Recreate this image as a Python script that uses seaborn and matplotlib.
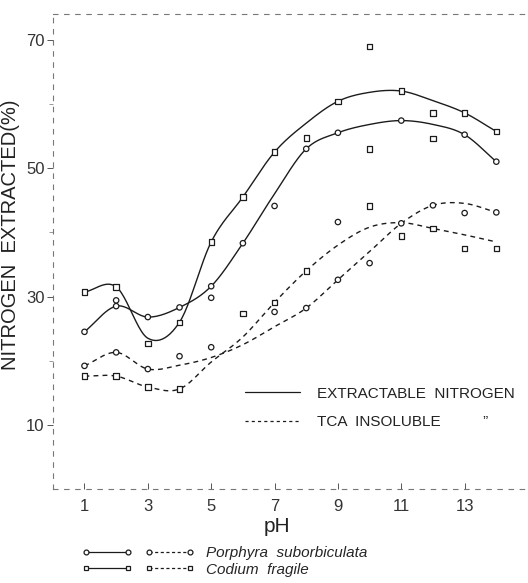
import matplotlib
matplotlib.use("Agg")
import matplotlib.pyplot as plt
from matplotlib.lines import Line2D
from matplotlib.legend_handler import HandlerTuple
import numpy as np
import pandas as pd
import seaborn as sns

# pH values for the smooth curves
ph = list(range(1, 15))

# curve values at each pH
porphyra_ext = [24.5, 28.5, 26.8, 28.3, 31.6, 38.3, 46.0, 53.0, 55.5, 56.8, 57.4, 56.8, 55.2, 51.0]
codium_ext = [30.7, 31.5, 23.5, 26.0, 38.5, 45.5, 52.5, 57.0, 60.4, 61.8, 62.0, 60.5, 58.6, 55.7]
porphyra_tca = [19.2, 21.3, 18.7, 19.3, 20.5, 22.5, 25.3, 28.2, 32.6, 37.0, 41.4, 44.2, 44.5, 43.1]
codium_tca = [17.6, 17.6, 15.9, 15.6, 19.8, 23.7, 29.1, 34.0, 38.0, 40.8, 41.5, 40.6, 39.6, 38.5]

# pH where a marker sits on each curve
porphyra_ext_marked = [1, 2, 3, 4, 5, 6, 8, 9, 11, 13, 14]
codium_ext_marked = [1, 2, 4, 5, 6, 7, 9, 11, 13, 14]
porphyra_tca_marked = [1, 2, 3, 8, 9, 11, 12, 14]
codium_tca_marked = [1, 2, 3, 4, 7, 8, 12]

# loose points off the curves
codium_extra_ph = [3, 6, 8, 10, 10, 10, 11, 12, 12, 13, 14]
codium_extra_val = [22.7, 27.4, 54.7, 68.9, 53.0, 44.1, 39.4, 58.6, 54.6, 37.5, 37.5]
porphyra_extra_ph = [2, 4, 5, 5, 7, 7, 9, 10, 13]
porphyra_extra_val = [29.4, 20.7, 22.1, 29.8, 44.1, 27.6, 41.6, 35.2, 43.0]

y_ticks = [10, 30, 50, 70]
x_ticks = [1, 3, 5, 7, 9, 11, 13]

INK = "#1c1c1c"
FONT = ["Liberation Sans", "DejaVu Sans"]


def smooth(xs, ys, n=24):
    # cardinal (Catmull-Rom) spline through the read values, for drawing only
    x = np.asarray(xs, float)
    y = np.asarray(ys, float)
    m = np.gradient(y, x)
    out_x, out_y = [], []
    t = np.linspace(0, 1, n, endpoint=False)
    for i in range(len(x) - 1):
        h = x[i + 1] - x[i]
        h00 = 2 * t**3 - 3 * t**2 + 1
        h10 = t**3 - 2 * t**2 + t
        h01 = -2 * t**3 + 3 * t**2
        h11 = t**3 - t**2
        out_x.append(x[i] + t * h)
        out_y.append(h00 * y[i] + h10 * h * m[i] + h01 * y[i + 1] + h11 * h * m[i + 1])
    out_x.append([x[-1]])
    out_y.append([y[-1]])
    return np.concatenate(out_x), np.concatenate(out_y)


series = {
    ("Porphyra", "ext"): (porphyra_ext, porphyra_ext_marked),
    ("Codium", "ext"): (codium_ext, codium_ext_marked),
    ("Porphyra", "tca"): (porphyra_tca, porphyra_tca_marked),
    ("Codium", "tca"): (codium_tca, codium_tca_marked),
}

curve_rows, point_rows = [], []
for (sp, frac), (vals, marked) in series.items():
    sx, sy = smooth(ph, vals)
    curve_rows.append(pd.DataFrame({"pH": sx, "N": sy, "species": sp, "fraction": frac,
                                    "unit": f"{sp}-{frac}"}))
    lookup = dict(zip(ph, vals))
    for p in marked:
        point_rows.append({"pH": p, "N": lookup[p], "species": sp})
for p, v in zip(codium_extra_ph, codium_extra_val):
    point_rows.append({"pH": p, "N": v, "species": "Codium"})
for p, v in zip(porphyra_extra_ph, porphyra_extra_val):
    point_rows.append({"pH": p, "N": v, "species": "Porphyra"})

curves = pd.concat(curve_rows, ignore_index=True)
points = pd.DataFrame(point_rows)

sns.set_theme(style="white")
plt.rcParams["font.family"] = FONT

fig = plt.figure(figsize=(5.28, 5.83), dpi=100)
ax = fig.add_axes([0.100, 0.161, 0.900, 0.815])

sns.lineplot(data=curves, x="pH", y="N", units="unit", estimator=None, sort=False,
             style="fraction", dashes={"ext": "", "tca": (3.5, 3)}, color=INK,
             lw=1.0, legend=False, ax=ax)
sns.scatterplot(data=points, x="pH", y="N", style="species",
                markers={"Porphyra": "o", "Codium": "s"}, s=15,
                facecolor="white", edgecolor=INK, linewidth=0.9, zorder=3,
                legend=False, ax=ax)

ax.set_xlim(0, 15)
ax.set_ylim(0, 74)
ax.set_xticks(x_ticks)
ax.set_yticks(y_ticks)
ax.set_yticks([20, 40, 60], minor=True)
ax.tick_params(axis="y", which="major", direction="out", length=4, width=0.7,
               color="#555", labelsize=12, labelcolor="#333", pad=2, left=True)
ax.tick_params(axis="y", which="minor", direction="out", length=3, width=0.6,
               color="#888", left=True)
ax.tick_params(axis="x", direction="in", length=4, width=0.7, color="#555",
               labelsize=12, labelcolor="#333", pad=7, bottom=True)

for side in ["left", "bottom", "top"]:
    ax.spines[side].set_color("#777")
    ax.spines[side].set_linewidth(0.8)
    ax.spines[side].set_linestyle((0, (4, 6)))
ax.spines["right"].set_visible(False)

ax.set_xlabel("pH", fontsize=15, color="#222")
ax.xaxis.set_label_coords(0.472, -0.058)
ax.set_ylabel("NITROGEN  EXTRACTED(%)", fontsize=14.5, color="#222")
ax.yaxis.set_label_coords(-0.068, 0.535)

# line-type key inside the plot
key = [Line2D([], [], color=INK, lw=0.9),
       Line2D([], [], color=INK, lw=0.9, ls=(0, (2.5, 2.5)))]
ax.legend(key, ["EXTRACTABLE  NITROGEN", "TCA  INSOLUBLE          \u201d"],
          loc="upper left", bbox_to_anchor=(0.404, 0.216), frameon=False,
          fontsize=11, handlelength=3.6, handletextpad=1.15, labelspacing=0.98,
          borderpad=0, borderaxespad=0, labelcolor="#222")

# species key below the axes
def pair(marker):
    solid = Line2D([], [], color=INK, lw=0.9, marker=marker, ms=3.5,
                   mfc="white", mec=INK, mew=0.9)
    dashed = Line2D([], [], color=INK, lw=0.9, ls=(0, (2.5, 2)), marker=marker, ms=3.5,
                    mfc="white", mec=INK, mew=0.9)
    return (solid, dashed)

leg2 = fig.legend([pair("o"), pair("s")], ["Porphyra  suborbiculata", "Codium  fragile"],
                  handler_map={tuple: HandlerTuple(ndivide=None, pad=0.8)},
                  loc="upper left", bbox_to_anchor=(0.155, 0.063), frameon=False,
                  numpoints=2, handlelength=7.4, handletextpad=0.75, labelspacing=0.15,
                  borderpad=0, borderaxespad=0,
                  prop={"family": FONT, "style": "italic", "size": 11})

fig.savefig("out.png", dpi=100)
